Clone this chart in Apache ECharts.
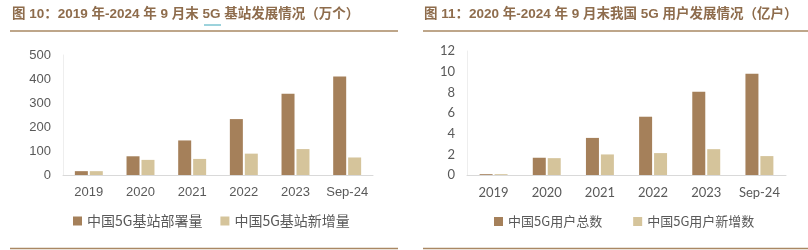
<!DOCTYPE html>
<html><head><meta charset="utf-8">
<script src="https://cdn.jsdelivr.net/npm/echarts@6/dist/echarts.min.js"></script>
<style>html,body{margin:0;padding:0;background:#fff}#c{width:808px;height:250px}</style>
</head><body><div id="c"></div>
<script>
const categories = ['2019','2020','2021','2022','2023','Sep-24'];
const stationsTotal = [16, 78, 144, 233, 339, 410];
const stationsNew = [16, 63, 67, 89, 108, 73];
const usersTotal = [0.08, 1.67, 3.59, 5.64, 8.05, 9.81];
const usersNew = [0.08, 1.63, 1.99, 2.12, 2.50, 1.83];
const leftTicks = [0, 100, 200, 300, 400, 500];
const rightTicks = [0, 2, 4, 6, 8, 10, 12];
const names = ['中国5G基站部署量','中国5G基站新增量','中国5G用户总数','中国5G用户新增数'];

const DARK = '#a5805a', LIGHT = '#d5c49b', TXT = '#595959', AX = '#d9d9d9';
const titleColor = '#8e6c4c';
const lineColor = '#a98863';
const cjk = '"Noto Sans CJK SC", "Liberation Sans", sans-serif';
const arial = '"Liberation Sans", Arial, sans-serif';
const cal = 'Lato, "Open Sans", sans-serif';
const titleFont = 'bold 13.5px "Liberation Sans", "Noto Sans CJK SC", sans-serif';

const chart = echarts.init(document.getElementById('c'));
function xAx(gi, font){
  return {type:'category', gridIndex:gi, data:categories,
    axisLine:{lineStyle:{color:AX}}, axisTick:{show:false},
    axisLabel:{color:TXT, fontSize:13, fontFamily:font, margin:11, interval:0}};
}
function yAx(gi, ticks, font){
  return {type:'value', gridIndex:gi, min:ticks[0], max:ticks[ticks.length-1], interval:ticks[1]-ticks[0],
    axisLine:{show:true, lineStyle:{color:'#eeeeee'}}, axisTick:{show:false}, splitLine:{show:false},
    axisLabel:{color:TXT, fontSize:13, fontFamily:font, margin:12}};
}
function bar(name, data, color, gi){
  return {type:'bar', name, data, xAxisIndex:gi, yAxisIndex:gi, barWidth:13, barGap:'15%',
    itemStyle:{color}};
}
chart.setOption({
  animation:false,
  grid:[{left:63, top:55, width:310, height:120},{left:467, top:51, width:319, height:124}],
  xAxis:[xAx(0, arial), xAx(1, cal)],
  yAxis:[yAx(0, leftTicks, arial), yAx(1, rightTicks, cal)],
  legend:[
    {data:[names[0],names[1]], left:73, top:214, padding:0, itemWidth:9, itemHeight:9, itemGap:18, icon:'rect',
     textStyle:{color:TXT, fontSize:14, fontFamily:cjk}},
    {data:[names[2],names[3]], left:494, top:215, padding:0, itemWidth:9, itemHeight:9, itemGap:31, icon:'rect',
     textStyle:{color:TXT, fontSize:13, fontFamily:cjk}}
  ],
  series:[
    bar(names[0], stationsTotal, DARK, 0), bar(names[1], stationsNew, LIGHT, 0),
    bar(names[2], usersTotal, DARK, 1), bar(names[3], usersNew, LIGHT, 1)
  ],
  graphic:[
    {type:'text', left:12, top:8, style:{text:'图 10：2019 年-2024 年 9 月末 5G 基站发展情况（万个）', fill:titleColor, font:titleFont}},
    {type:'text', left:424, top:8, style:{text:'图 11：2020 年-2024 年 9 月末我国 5G 用户发展情况（亿户）', fill:titleColor, font:titleFont}},
    {type:'line', shape:{x1:204, y1:25, x2:221, y2:25}, style:{stroke:'#3aa6b9', lineWidth:1}},
    {type:'line', shape:{x1:10, y1:31, x2:398, y2:31}, style:{stroke:lineColor, lineWidth:1.5}},
    {type:'line', shape:{x1:423, y1:31, x2:808, y2:31}, style:{stroke:lineColor, lineWidth:1.5}},
    {type:'line', shape:{x1:10, y1:248.5, x2:398, y2:248.5}, style:{stroke:lineColor, lineWidth:1.5}},
    {type:'line', shape:{x1:423, y1:248.5, x2:808, y2:248.5}, style:{stroke:lineColor, lineWidth:1.5}}
  ]
});
</script></body></html>
